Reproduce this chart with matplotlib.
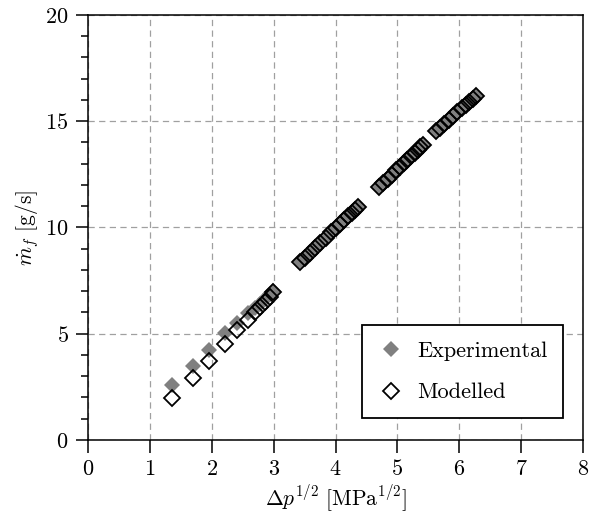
import matplotlib
matplotlib.use("Agg")
import matplotlib.pyplot as plt
from matplotlib.ticker import MultipleLocator

plt.rcParams["font.family"] = "serif"
plt.rcParams["font.serif"] = ["cmr10"]
plt.rcParams["mathtext.fontset"] = "cm"
plt.rcParams["axes.formatter.use_mathtext"] = True

# sqrt of pressure drop [MPa^1/2]
dp_sqrt = [1.35, 1.70, 1.96, 2.21, 2.40, 2.59, 2.70, 2.78, 2.86, 2.94, 2.99,
           3.42, 3.50, 3.58, 3.66, 3.75, 3.84, 3.93, 4.00, 4.07, 4.14, 4.20, 4.26, 4.31, 4.36,
           4.70, 4.77, 4.84, 4.91, 4.98, 5.04, 5.10, 5.16, 5.22, 5.28, 5.33, 5.37, 5.41,
           5.63, 5.69, 5.76, 5.83, 5.90, 5.97, 6.04, 6.10, 6.16, 6.22, 6.27]

# fuel mass flow [g/s]
mf_exp = [2.59, 3.48, 4.24, 5.02, 5.49, 5.96, 6.20, 6.42, 6.62, 6.85, 7.02,
          8.40, 8.62, 8.84, 9.06, 9.30, 9.55, 9.80, 9.99, 10.18, 10.38, 10.54, 10.70, 10.84, 10.98,
          11.92, 12.11, 12.31, 12.50, 12.70, 12.87, 13.03, 13.20, 13.37, 13.53, 13.67, 13.78, 13.89,
          14.55, 14.70, 14.89, 15.07, 15.25, 15.43, 15.61, 15.76, 15.92, 16.07, 16.20]

mf_mod = [1.96, 2.90, 3.72, 4.52, 5.18, 5.65, 6.00, 6.25, 6.50, 6.75, 6.95,
          8.36, 8.58, 8.80, 9.03, 9.27, 9.52, 9.78, 9.97, 10.16, 10.36, 10.53, 10.69, 10.83, 10.97,
          11.90, 12.09, 12.29, 12.49, 12.69, 12.86, 13.02, 13.19, 13.36, 13.52, 13.66, 13.77, 13.88,
          14.54, 14.69, 14.88, 15.06, 15.24, 15.42, 15.60, 15.75, 15.91, 16.06, 16.19]

fig = plt.figure(figsize=(5.89, 5.32), dpi=100)
ax = fig.add_axes([0.1494, 0.173, 0.8406, 0.799])

ax.plot(dp_sqrt, mf_exp, linestyle="none", marker="D", markersize=8,
        color="#808080", markeredgewidth=0, label="Experimental", zorder=3)
ax.plot(dp_sqrt, mf_mod, linestyle="none", marker="D", markersize=8,
        markerfacecolor="none", markeredgecolor="black", markeredgewidth=1.3,
        label="Modelled", zorder=4)

ax.set_xlim(0, 8)
ax.set_ylim(0, 20)
ax.xaxis.set_major_locator(MultipleLocator(1))
ax.yaxis.set_major_locator(MultipleLocator(5))
ax.yaxis.set_minor_locator(MultipleLocator(1))
ax.tick_params(which="major", direction="out", length=9, width=1.1, labelsize=16, pad=5)
ax.tick_params(which="minor", direction="out", length=5, width=1.1)
ax.tick_params(top=False, right=False)
for s in ax.spines.values():
    s.set_linewidth(1.1)

ax.grid(True, which="major", linestyle=(0, (5, 3.5)), color="#a0a0a0", linewidth=0.9)
ax.set_axisbelow(True)

ax.set_xlabel(r"$\Delta p^{1/2}\ [\mathrm{MPa}^{1/2}]$", fontsize=15.5, labelpad=3)
ax.set_ylabel(r"$\dot{m}_f\ [\mathrm{g/s}]$", fontsize=15.5, labelpad=3)

leg = ax.legend(loc="lower right", bbox_to_anchor=(0.96, 0.052), borderaxespad=0,
                fontsize=16, fancybox=False, edgecolor="black", framealpha=1,
                handletextpad=0.6, borderpad=0.7, labelspacing=1.0,
                handlelength=1.2)
leg.get_frame().set_linewidth(1.3)

fig.savefig("out.png", dpi=100)
